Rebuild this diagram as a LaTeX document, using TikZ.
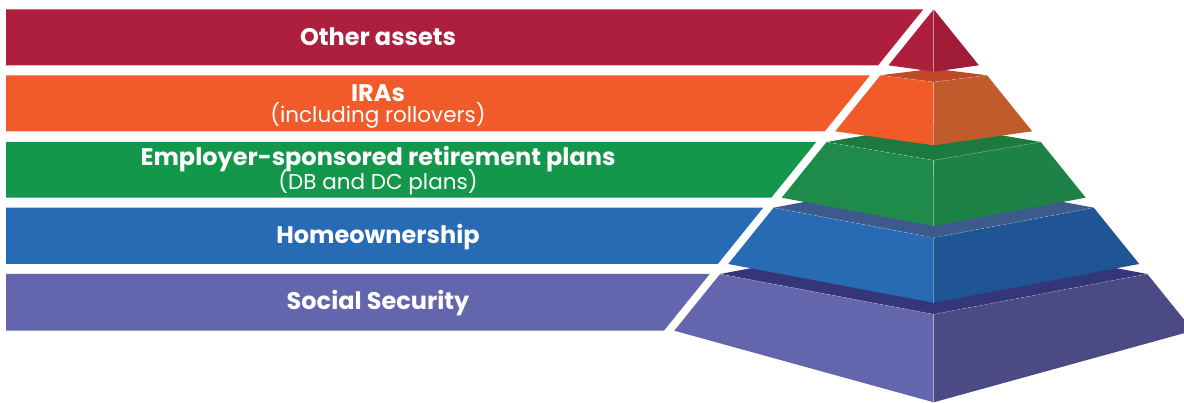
\documentclass[tikz,border=0pt]{standalone}
\usepackage{fontspec}
\setmainfont{Poppins}
\definecolor{redB}{HTML}{AE1F3D}
\definecolor{redR}{HTML}{A01B38}
\definecolor{orB}{HTML}{F15A29}
\definecolor{orR}{HTML}{C25B2B}
\definecolor{orT}{HTML}{C0472A}
\definecolor{grB}{HTML}{13974A}
\definecolor{grL}{HTML}{1F8B4A}
\definecolor{grR}{HTML}{1E8147}
\definecolor{grT}{HTML}{1C7A3F}
\definecolor{blB}{HTML}{286BB5}
\definecolor{blR}{HTML}{1F5594}
\definecolor{blT}{HTML}{3C5A8C}
\definecolor{puB}{HTML}{6365AD}
\definecolor{puR}{HTML}{4B4A85}
\definecolor{puT}{HTML}{343679}
\tikzset{
  title/.style={anchor=base, text=white, font=\fontsize{24}{28}\selectfont\bfseries, inner sep=0pt},
  subtitle/.style={anchor=base, text=white, font=\fontsize{21.5}{25}\selectfont, inner sep=0pt},
  ridge/.style={draw=white, draw opacity=0.35, line width=0.5pt},
  rim/.style={draw=white, draw opacity=0.35, line width=0.5pt, dash pattern=on 4pt off 2pt},
}
\begin{document}
\begin{tikzpicture}[x=1pt,y=-1pt]
\useasboundingbox (0,0) rectangle (1184,403);
\clip (0,0) rectangle (1184,403);
% bands
\fill[redB] (6,9.3) -- (923.3,9.3) -- (878.1,65.3) -- (6,65.3) -- cycle;
\fill[orB] (6,75.3) -- (870.0,75.3) -- (824.8,131.3) -- (6,131.3) -- cycle;
\fill[grB] (6,142) -- (816.2,142) -- (771.3,197.7) -- (6,197.7) -- cycle;
\fill[blB] (6,207.7) -- (763.2,207.7) -- (717.8,264) -- (6,264) -- cycle;
\fill[puB] (6,274) -- (709.7,274) -- (663.9,330.7) -- (6,330.7) -- cycle;
% tier 5 (purple)
\fill[puT] (720.1,274) -- (933.7,233.7) -- (1147.3,274) -- (933.7,314.3) -- cycle;
\fill[puB] (720.1,274) -- (933.7,314.3) -- (933.7,402.3) -- (674.3,330.7) -- cycle;
\fill[puR] (1147.3,274) -- (933.7,314.3) -- (933.7,402.3) -- (1193.1,330.7) -- cycle;
\draw[rim] (720.1,274) -- (933.7,314.3) -- (1147.3,274);
\draw[ridge] (933.7,314.3) -- (933.7,402.3);
% tier 4 (blue)
\fill[blT] (773.6,207.7) -- (933.7,177.7) -- (1093.8,207.7) -- (933.7,237.7) -- cycle;
\fill[blB] (773.6,207.7) -- (933.7,237.7) -- (933.7,302.7) -- (728.2,264) -- cycle;
\fill[blR] (1093.8,207.7) -- (933.7,237.7) -- (933.7,302.7) -- (1139.2,264) -- cycle;
\draw[rim] (773.6,207.7) -- (933.7,237.7) -- (1093.8,207.7);
\draw[ridge] (933.7,237.7) -- (933.7,302.7);
% tier 3 (green)
\fill[grT] (826.6,142) -- (933.7,123.7) -- (1040.8,142) -- (933.7,160.3) -- cycle;
\fill[grL] (826.6,142) -- (933.7,160.3) -- (933.7,226) -- (781.7,197.7) -- cycle;
\fill[grR] (1040.8,142) -- (933.7,160.3) -- (933.7,226) -- (1085.7,197.7) -- cycle;
\draw[rim] (826.6,142) -- (933.7,160.3) -- (1040.8,142);
\draw[ridge] (933.7,160.3) -- (933.7,226);
% tier 2 (orange)
\fill[orT] (880.4,75.3) -- (933.7,68.6) -- (987.0,75.3) -- (933.7,82) -- cycle;
\fill[orB] (880.4,75.3) -- (933.7,82) -- (933.7,145.3) -- (835.2,131.3) -- cycle;
\fill[orR] (987.0,75.3) -- (933.7,82) -- (933.7,145.3) -- (1032.2,131.3) -- cycle;
\draw[rim] (880.4,75.3) -- (933.7,82) -- (987.0,75.3);
\draw[ridge] (933.7,82) -- (933.7,145.3);
% tier 1 (red)
\fill[redB] (933.7,9.3) -- (888.5,65.3) -- (933.7,71.7) -- cycle;
\fill[redR] (933.7,9.3) -- (978.9,65.3) -- (933.7,71.7) -- cycle;
\draw[ridge] (933.7,9.3) -- (933.7,71.7);
% labels
\node[title] (t1) at (378,46) {Other assets};
\node[title] (t2) at (378,102) {IRAs};
\node[subtitle] (s2) at (378,122.3) {(including rollovers)};
\node[title] (t3) at (378,166) {Employer-sponsored retirement plans};
\node[subtitle] (s3) at (378,190) {(DB and DC plans)};
\node[title] (t4) at (378,243.3) {Homeownership};
\node[title] (t5) at (378,309.3) {Social Security};
\end{tikzpicture}
\end{document}
